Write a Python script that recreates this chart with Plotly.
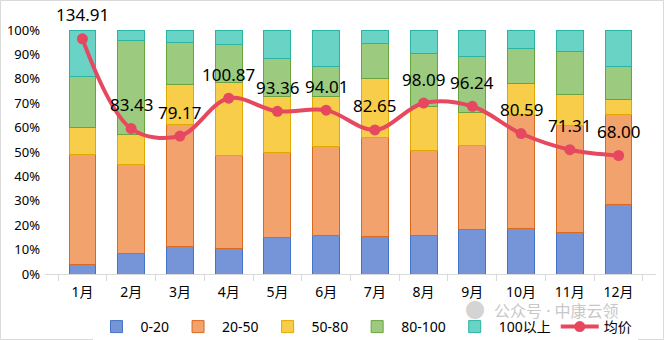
import plotly.graph_objects as go

months = ["1月", "2月", "3月", "4月", "5月", "6月", "7月", "8月", "9月", "10月", "11月", "12月"]
s_0_20 = [3.7, 8.5, 11.2, 10.6, 15.1, 15.9, 15.5, 15.9, 18.4, 18.6, 17.1, 28.6]
s_20_50 = [45.1, 36.2, 49.9, 37.8, 34.9, 36.3, 40.4, 34.9, 34.2, 46.6, 43.7, 36.6]
s_50_80 = [11.4, 12.6, 16.7, 30.0, 22.9, 20.7, 24.1, 18.0, 13.7, 12.7, 12.6, 6.5]
s_80_100 = [20.9, 38.3, 17.0, 15.8, 15.3, 12.3, 14.5, 21.5, 23.0, 14.4, 17.7, 13.2]
s_100_up = [18.9, 4.4, 5.2, 5.8, 11.8, 14.8, 5.5, 9.7, 10.7, 7.7, 8.9, 15.1]
avg_price = [134.91, 83.43, 79.17, 100.87, 93.36, 94.01, 82.65, 98.09, 96.24, 80.59, 71.31, 68.00]

series_names = ["0-20", "20-50", "50-80", "80-100", "100以上"]
series_vals = [s_0_20, s_20_50, s_50_80, s_80_100, s_100_up]
fill_colors = ["#7595d8", "#f2a26c", "#f8cd4a", "#9cca7f", "#69d3c6"]
edge_colors = ["#4472c4", "#d8691f", "#e0a800", "#6aa43f", "#2bb3a3"]

FONT = "Noto Sans, Noto Sans CJK SC, sans-serif"

fig = go.Figure()
for name, vals, fc, ec in zip(series_names, series_vals, fill_colors, edge_colors):
    fig.add_trace(go.Bar(
        x=months, y=[v / 100 for v in vals], name=name,
        marker=dict(color=fc, line=dict(color=ec, width=1)),
        hoverinfo="skip",
    ))

fig.add_trace(go.Scatter(
    x=months, y=avg_price, name="均价", yaxis="y2",
    mode="lines+markers",
    line=dict(color="#e6495f", width=4, shape="spline", smoothing=1.0),
    marker=dict(color="#e6495f", size=11),
))

for m, v in zip(months, avg_price):
    fig.add_annotation(x=m, y=v, yref="y2", text=f"{v:.2f}", showarrow=False,
                       yshift=24, font=dict(size=17, color="#000000", family=FONT))

W, H = 664, 340
ml, mr, mt, mb = 45, 8, 30, 66
pw, ph = W - ml - mr, H - mt - mb

# watermark
fig.add_annotation(xref="paper", yref="paper", x=(492 - ml) / pw, y=-(311 - mt - ph) / ph,
                   xanchor="left", yanchor="middle", showarrow=False,
                   text="公众号 · 中康云领", font=dict(size=16, color="#c8c8c8", family=FONT))
fig.add_annotation(xref="paper", yref="paper", x=(475 - ml) / pw, y=-(310 - mt - ph) / ph,
                   xanchor="center", yanchor="middle", showarrow=False,
                   text="●", font=dict(size=20, color="#d4d4d4", family=FONT))

# outer border
fig.add_shape(type="rect", xref="paper", yref="paper",
              x0=-(ml - 0.5) / pw, x1=1 + (mr - 0.5) / pw,
              y0=-(mb - 0.5) / ph, y1=1 + (mt - 0.5) / ph,
              line=dict(color="#d9d9d9", width=1), layer="below")

fig.update_layout(
    width=W, height=H,
    margin=dict(l=ml, r=mr, t=mt, b=mb, autoexpand=False),
    barmode="stack", bargap=0.45,
    plot_bgcolor="white", paper_bgcolor="white",
    font=dict(family=FONT, color="#000000"),
    showlegend=True,
    legend=dict(orientation="h", x=(365 - ml) / pw, xanchor="center",
                y=-(327 - mt - ph) / ph, yanchor="middle",
                font=dict(size=14, family=FONT), traceorder="normal",
                itemwidth=38, tracegroupgap=0),
    xaxis=dict(type="category", showline=True, linecolor="#d9d9d9", linewidth=1,
               ticks="outside", tickson="boundaries", ticklen=6, tickcolor="#d9d9d9",
               tickfont=dict(size=14), showgrid=False, ticklabelstandoff=5),
    yaxis=dict(range=[0, 1], tickformat=".0%", dtick=0.1, showgrid=False,
               showline=False, tickfont=dict(size=13), zeroline=False, ticklabelstandoff=4),
    yaxis2=dict(range=[0, 140], overlaying="y", side="right", visible=False,
                showgrid=False),
)

fig.write_html("out.html")
